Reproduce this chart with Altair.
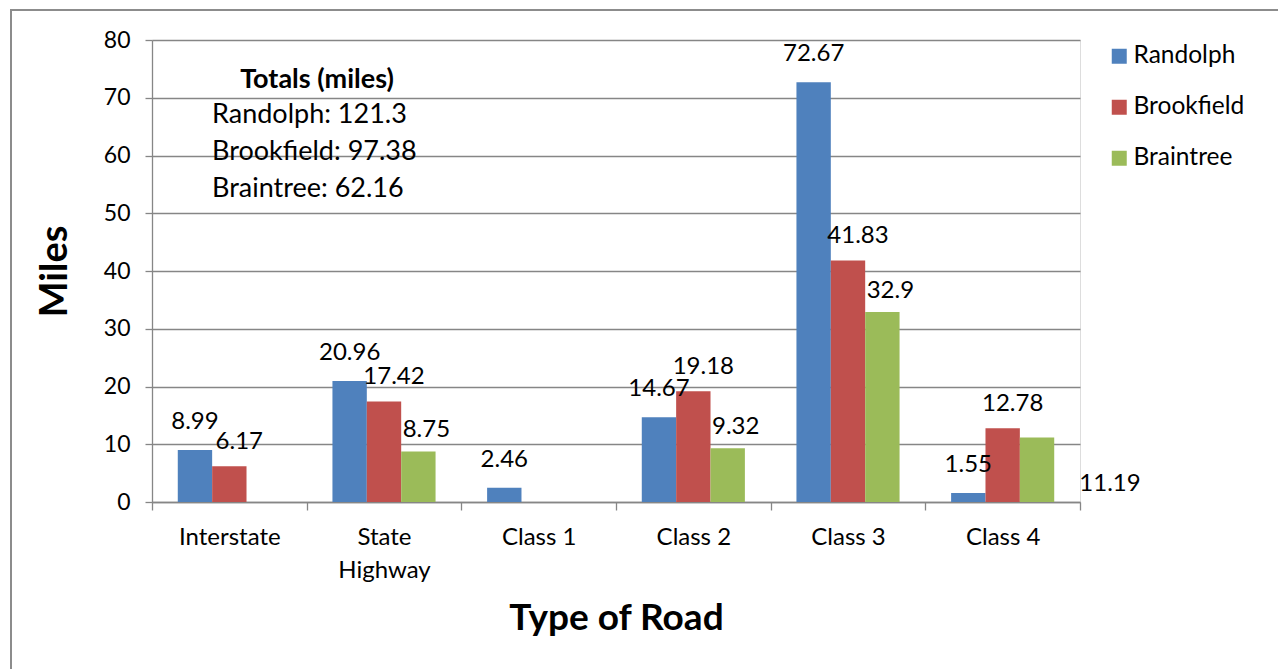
import altair as alt
import pandas as pd

roads = ["Interstate", "State Highway", "Class 1", "Class 2", "Class 3", "Class 4"]
series = ["Randolph", "Brookfield", "Braintree"]
randolph = [8.99, 20.96, 2.46, 14.67, 72.67, 1.55]
brookfield = [6.17, 17.42, None, 19.18, 41.83, 12.78]
braintree = [None, 8.75, None, 9.32, 32.9, 11.19]
colors = ["#4F81BD", "#C0504D", "#9BBB59"]

rows = []
for name, vals in zip(series, [randolph, brookfield, braintree]):
    for road, v in zip(roads, vals):
        if v is not None:
            rows.append({"road": road, "series": name, "value": v, "label": f"{v:g}"})
df = pd.DataFrame(rows)

totals = {name: round(sum(v for v in vals if v is not None), 2)
          for name, vals in zip(series, [randolph, brookfield, braintree])}
total_lines = [f"{name}: {totals[name]:g}" for name in series]

FONT = "Lato"
W, H = 928, 462

x_enc = alt.X("road:N", sort=roads,
              scale=alt.Scale(paddingInner=0, paddingOuter=0),
              axis=alt.Axis(title="Type of Road", titleFontSize=37, titleFontWeight="bold",
                            titleFont=FONT, titleColor="black", titleY=116, titleBaseline="middle",
                            labelFont=FONT, labelFontSize=24, labelColor="black", labelAngle=0,
                            labelBaseline="top", labelPadding=15, labelLineHeight=33,
                            labelExpr="datum.label == 'State Highway' ? ['State', 'Highway'] : datum.label",
                            tickBand="extent", tickSize=8, tickColor="#868686", tickWidth=1.3,
                            domainColor="#868686", domainWidth=1.3, grid=False))
xo_enc = alt.XOffset("series:N", sort=series, scale=alt.Scale(paddingInner=0, paddingOuter=0.75))
y_enc = alt.Y("value:Q", scale=alt.Scale(domain=[0, 80]),
              axis=alt.Axis(title="Miles", titleFontSize=38, titleFontWeight="bold", titleFont=FONT,
                            titleColor="black", titleAngle=-90, titleX=-97, titleY=H / 2,
                            titleAlign="center", titleBaseline="middle",
                            values=list(range(0, 81, 10)),
                            labelFont=FONT, labelFontSize=23, labelColor="black", labelPadding=15,
                            tickSize=7, tickColor="#868686", tickWidth=1.3,
                            domainColor="#868686", domainWidth=1.3,
                            gridColor="#868686", gridWidth=1.3))

bars = alt.Chart(df).mark_bar().encode(
    x=x_enc, xOffset=xo_enc, y=y_enc,
    color=alt.Color("series:N", sort=series, scale=alt.Scale(domain=series, range=colors),
                    legend=alt.Legend(title=None, orient="none", legendX=955, legendY=4,
                                      symbolType="square", symbolSize=225, symbolStrokeWidth=0,
                                      labelFont=FONT, labelFontSize=24.5, labelColor="black",
                                      labelOffset=2, rowPadding=26, padding=0)),
)

odd_mask = (df.road == "Class 4") & (df.series == "Braintree")
normal = df[~odd_mask]
odd = df[odd_mask]

label_style = {"Randolph": (0, -28), "Brookfield": (10, -24), "Braintree": (8, -21)}
label_layers = []
for name in series:
    dx, dy = label_style[name]
    label_layers.append(
        alt.Chart(normal[normal.series == name]).mark_text(
            font=FONT, fontSize=24, color="black", baseline="middle", dx=dx, dy=dy).encode(
            x=alt.X("road:N", sort=roads), xOffset=alt.XOffset("series:N", sort=series),
            y="value:Q", text="label:N"))

odd_label = alt.Chart(odd).mark_text(font=FONT, fontSize=24, color="black",
                                      baseline="middle", dx=73, dy=47).encode(
    x=alt.X("road:N", sort=roads), xOffset=alt.XOffset("series:N", sort=series),
    y="value:Q", text="label:N")

one = pd.DataFrame({"k": [0]})
totals_title = alt.Chart(one).mark_text(font=FONT, fontSize=27, fontWeight="bold", color="black",
                                         align="center", baseline="alphabetic").encode(
    x=alt.value(165), y=alt.value(48), text=alt.value("Totals (miles)"))
totals_text = alt.Chart(one).mark_text(font=FONT, fontSize=27, color="black", align="left",
                                        baseline="alphabetic", lineHeight=37).encode(
    x=alt.value(60), y=alt.value(83), text=alt.value(total_lines))

border_left = alt.Chart(one).mark_rule(color="#8c8c8c", strokeWidth=2).encode(
    x=alt.value(-141), y=alt.value(-30), y2=alt.value(640))
border_top = alt.Chart(one).mark_rule(color="#8c8c8c", strokeWidth=2).encode(
    x=alt.value(-142), x2=alt.value(1140), y=alt.value(-30))

chart = alt.layer(bars, *label_layers, odd_label, totals_title, totals_text,
                  border_left, border_top).properties(
    width=W, height=H, autosize="none",
    padding={"left": 152, "top": 40, "right": 198, "bottom": 167},
).configure_view(stroke=None).configure(background="white")

chart.save("out.html", embed_options={"renderer": "svg", "actions": False})
